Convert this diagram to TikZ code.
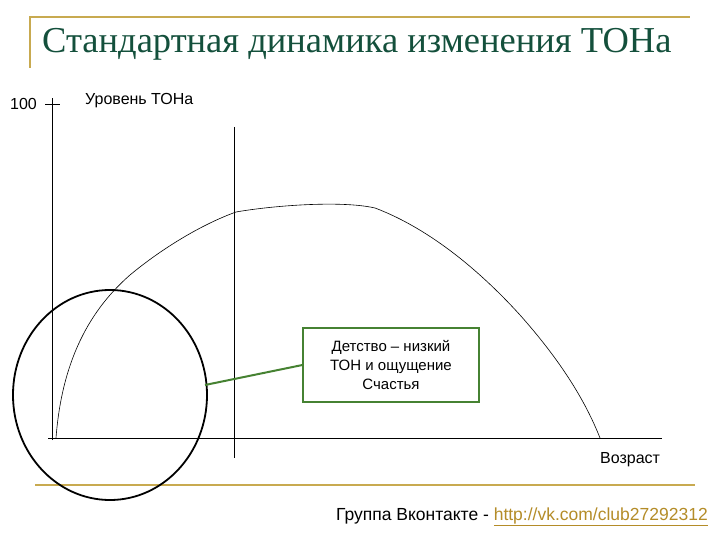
\documentclass[tikz,border=0pt]{standalone}
\usepackage{fontspec}
\setmainfont{Liberation Serif}
\newfontfamily\sansf{Liberation Sans}
\begin{document}
\begin{tikzpicture}[x=1pt,y=-1pt,
  gold/.style={draw={rgb,255:red,200;green,170;blue,80},line width=2pt},
  lbl/.style={font=\sansf\fontsize{16}{18}\selectfont,inner sep=0pt}]
\useasboundingbox (0,0) rectangle (720,540);
\draw[gold] (30,68) -- (30,17) -- (690,17);
\draw[gold] (35,485) -- (695,485);
\node[text={rgb,255:red,20;green,80;blue,60},font=\fontsize{36.5}{40}\selectfont,anchor=west,inner sep=0pt] (title) at (42,44) {Стандартная динамика изменения ТОНа};
\node[lbl,anchor=east] (n100) at (37,104) {100};
\node[lbl,anchor=west] (ylab) at (85,101) {Уровень ТОНа};
\node[lbl,anchor=west] (xlab) at (600,460) {Возраст};
\coordinate (yb) at (52,440); \coordinate (yt) at (52,98);
\draw[line width=0.6pt] (yb) -- (yt);
\draw[line width=0.6pt] (45,104) -- (60,104);
\coordinate (xa) at (48,438); \coordinate (xb) at (662,438);
\draw[line width=0.6pt] (xa) -- (xb);
\draw[line width=0.6pt] (234,127) -- (234,458);
\draw[line width=0.6pt] (56,438) .. controls (62,360) and (90,310) .. (130,275)
  .. controls (160,250) and (200,225) .. (236,212)
  .. controls (270,206) and (340,200) .. (375,208)
  .. controls (420,225) and (470,260) .. (520,315)
  .. controls (560,360) and (585,400) .. (600,438);
\draw[line width=1.8pt] (110,395) ellipse [x radius=97, y radius=105];
\node[draw={rgb,255:red,70;green,130;blue,50},fill=white,line width=1.2pt,minimum width=176pt,minimum height=74pt,align=center,font=\sansf\fontsize{15}{19}\selectfont] (box) at (391,365) {Детство – низкий\\ТОН и ощущение\\Счастья};
\coordinate (c) at (205,385);
\draw[draw={rgb,255:red,70;green,130;blue,50},line width=2pt] (c) -- (box.west);
\node[lbl,font=\sansf\fontsize{17.5}{20}\selectfont,anchor=east] (foot) at (708,517) {Группа Вконтакте - \textcolor[RGB]{180,140,40}{\underline{http://vk.com/club27292312}}};
\end{tikzpicture}
\end{document}
